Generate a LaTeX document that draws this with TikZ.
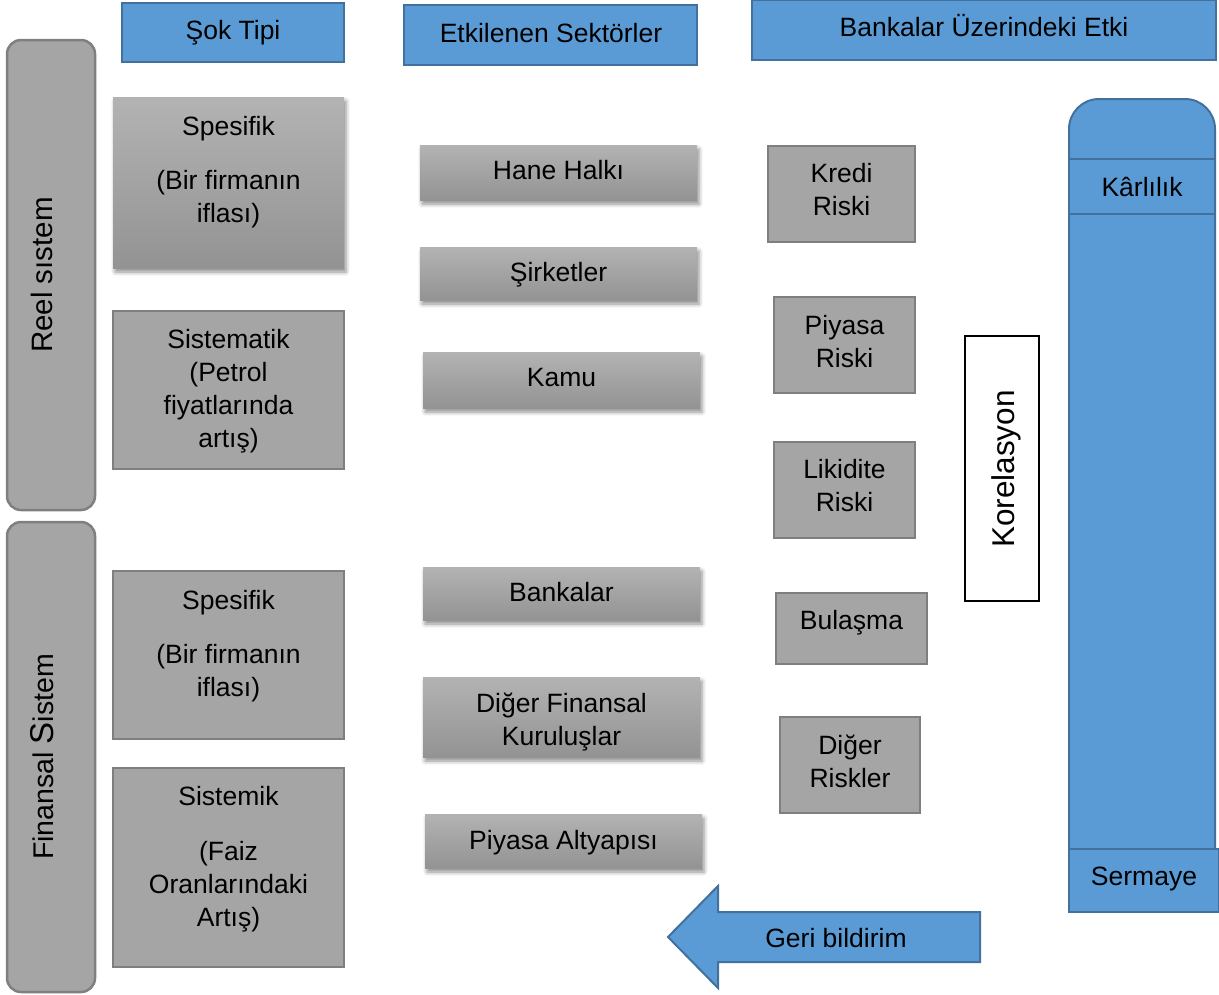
\documentclass[tikz,border=0pt]{standalone}
\usepackage{fontspec}
\setmainfont{Liberation Sans}
\usetikzlibrary{shadows.blur}
\definecolor{blueF}{HTML}{5B9BD5}
\definecolor{blueD}{HTML}{41719C}
\definecolor{grayF}{HTML}{A5A5A5}
\definecolor{grayD}{HTML}{7F7F7F}
\definecolor{gradT}{HTML}{B3B3B3}
\definecolor{gradB}{HTML}{939393}
\begin{document}
\begin{tikzpicture}[x=1pt,y=-1pt,
  every node/.style={font=\fontsize{26.5}{33}\selectfont, align=center, inner sep=0pt},
  hdr/.style={draw=blueD, fill=blueF, line width=2pt},
  sidebox/.style={draw=grayD, fill=grayF, line width=2.5pt, rounded corners=14pt},
  flatbox/.style={draw=grayD, fill=grayF, line width=2.5pt},
  gradbox/.style={top color=gradT, bottom color=gradB,
    blur shadow={shadow xshift=2pt, shadow yshift=-4pt, shadow blur radius=4pt, shadow opacity=45}},
  corbox/.style={draw=black, fill=white, line width=1.2pt},
  bluebox/.style={draw=blueD, fill=blueF, line width=2pt}]
\useasboundingbox (0,0) rectangle (1219,994);

% column headers
\node[hdr, minimum width=222, minimum height=59] (h1) at (233,32.5) {};
\node (h1t) at (233,32.6) {Şok Tipi};
\node[hdr, minimum width=293, minimum height=60] (h2) at (550.5,35) {};
\node (h2t) at (551,33) {Etkilenen Sektörler};
\node[hdr, minimum width=464, minimum height=60] (h3) at (984,30) {};
\node (h3t) at (984,26) {Bankalar Üzerindeki Etki};

% real / financial system side bars
\node[sidebox, minimum width=88, minimum height=470] (reel) at (51,275) {};
\node[rotate=90, font=\fontsize{29.5}{33}\selectfont] (reelt) at (41.7,275) {Reel sıstem};
\node[sidebox, minimum width=88, minimum height=470] (fin) at (51,757) {};
\node[rotate=90, font=\fontsize{28.5}{33}\selectfont] (fint) at (42.5,757)
  {Finansal {\fontsize{33}{33}\selectfont S}istem};

% shock types
\node[gradbox, minimum width=231, minimum height=171] (s1) at (228.5,182.5) {};
\node (s1t) at (228.5,172.2) {Spesifik\\[21pt](Bir firmanın\\iflası)};
\node[flatbox, minimum width=231, minimum height=158] (s2) at (228.5,390) {};
\node (s2t) at (228.5,391) {Sistematik\\(Petrol\\fiyatlarında\\artış)};
\node[flatbox, minimum width=231, minimum height=168] (s3) at (228.5,655) {};
\node (s3t) at (228.5,646.2) {Spesifik\\[21pt](Bir firmanın\\iflası)};
\node[flatbox, minimum width=231, minimum height=199] (s4) at (228.5,867.5) {};
\node (s4t) at (228.5,859.2) {Sistemik\\[22pt](Faiz\\Oranlarındaki\\Artış)};

% affected sectors
\node[gradbox, minimum width=277, minimum height=55] (hh) at (558.5,172.5) {};
\node (hht) at (558.5,170) {Hane Halkı};
\node[gradbox, minimum width=277, minimum height=53] (sk) at (558.5,273.5) {};
\node (skt) at (558.5,274.5) {Şirketler};
\node[gradbox, minimum width=277, minimum height=56] (km) at (561.5,380) {};
\node (kmt) at (561.5,378) {Kamu};
\node[gradbox, minimum width=277, minimum height=53] (bk) at (561.5,593.5) {};
\node (bkt) at (561.5,592) {Bankalar};
\node[gradbox, minimum width=277, minimum height=80] (df) at (561.5,717) {};
\node (dft) at (561.5,722) {Diğer Finansal\\Kuruluşlar};
\node[gradbox, minimum width=277, minimum height=54] (pa) at (563.5,841) {};
\node (pat) at (563.5,842.6) {Piyasa Altyapısı};

% risks
\node[flatbox, minimum width=147, minimum height=96] (kr) at (841.5,194) {};
\node (krt) at (841.5,189.5) {Kredi\\Riski};
\node[flatbox, minimum width=141, minimum height=96] (pr) at (844.5,345) {};
\node (prt) at (844.5,341.5) {Piyasa\\Riski};
\node[flatbox, minimum width=141, minimum height=96] (lr) at (844.5,490) {};
\node (lrt) at (844.5,486) {Likidite\\Riski};
\node[flatbox, minimum width=151, minimum height=71] (bl) at (851.5,628.5) {};
\node (blt) at (851.5,622.6) {Bulaşma};
\node[flatbox, minimum width=140, minimum height=96] (dr) at (850,765) {};
\node (drt) at (850,761.5) {Diğer\\Riskler};

% correlation
\node[corbox, minimum width=74, minimum height=265] (kor) at (1002,468.5) {};
\node[rotate=90, font=\fontsize{31.5}{33}\selectfont] (kort) at (1006,469) {Korelasyon};

% profitability / capital column
\draw[bluebox, rounded corners=30pt] (1069,880) -- (1069,99) -- (1215,99) -- (1215,880);
\node[bluebox, minimum width=146, minimum height=55] (kl) at (1142,186.5) {};
\node (klt) at (1142,187) {Kârlılık};
\node[bluebox, minimum width=150, minimum height=63] (sm) at (1144,880.5) {};
\node (smt) at (1144,878.6) {Sermaye};

% feedback arrow
\draw[bluebox, line join=miter] (980,912) -- (718,912) -- (718,886) -- (668,937)
  -- (718,988) -- (718,962) -- (980,962) -- cycle;
\node (gb) at (836,938) {Geri bildirim};
\end{tikzpicture}
\end{document}
